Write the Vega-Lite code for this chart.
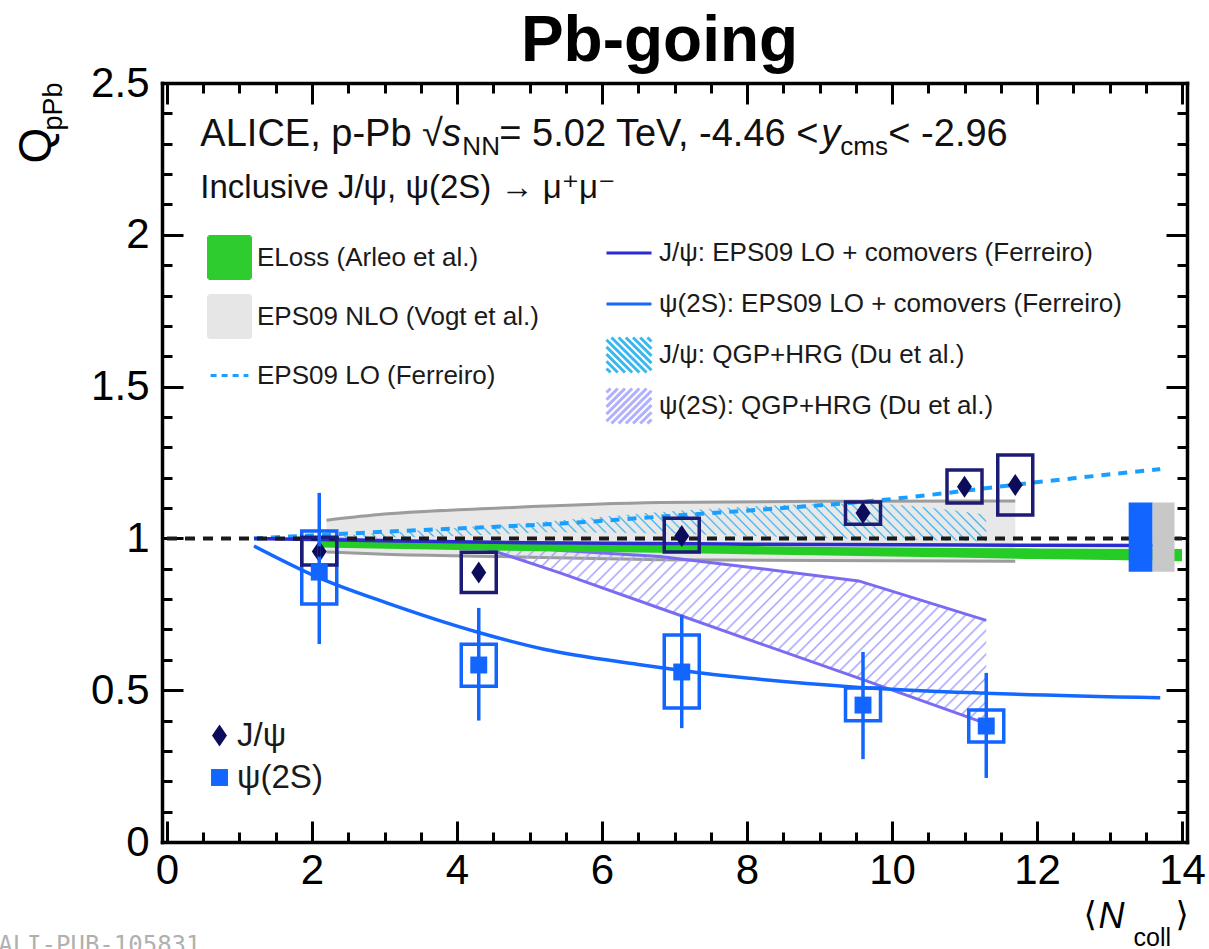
{
"$schema":"https://vega.github.io/schema/vega-lite/v6.json",
"width":1025,"height":759,
"autosize":{"type":"none"},
"padding":{"left":162,"top":83,"right":22,"bottom":107},
"background":"white",
"config":{"view":{"stroke":null},"font":"Liberation Sans","axis":{"grid":false}},
"datasets":{
"meas":[
{"particle":"J/ψ","x":2.1,"y":0.957,"stat_lo":0.94,"stat_hi":0.974,"sys_lo":0.912,"sys_hi":1.004},
{"particle":"J/ψ","x":4.3,"y":0.888,"stat_lo":0.87,"stat_hi":0.906,"sys_lo":0.822,"sys_hi":0.954},
{"particle":"J/ψ","x":7.1,"y":1.008,"stat_lo":0.99,"stat_hi":1.026,"sys_lo":0.955,"sys_hi":1.066},
{"particle":"J/ψ","x":9.6,"y":1.084,"stat_lo":1.066,"stat_hi":1.102,"sys_lo":1.047,"sys_hi":1.12},
{"particle":"J/ψ","x":11.0,"y":1.17,"stat_lo":1.152,"stat_hi":1.188,"sys_lo":1.117,"sys_hi":1.225},
{"particle":"J/ψ","x":11.7,"y":1.176,"stat_lo":1.158,"stat_hi":1.194,"sys_lo":1.077,"sys_hi":1.275},
{"particle":"ψ(2S)","x":2.1,"y":0.889,"stat_lo":0.652,"stat_hi":1.15,"sys_lo":0.784,"sys_hi":1.024},
{"particle":"ψ(2S)","x":4.3,"y":0.583,"stat_lo":0.40,"stat_hi":0.771,"sys_lo":0.513,"sys_hi":0.651},
{"particle":"ψ(2S)","x":7.1,"y":0.56,"stat_lo":0.375,"stat_hi":0.748,"sys_lo":0.441,"sys_hi":0.682},
{"particle":"ψ(2S)","x":9.6,"y":0.451,"stat_lo":0.273,"stat_hi":0.626,"sys_lo":0.399,"sys_hi":0.507},
{"particle":"ψ(2S)","x":11.3,"y":0.382,"stat_lo":0.211,"stat_hi":0.557,"sys_lo":0.329,"sys_hi":0.435}
],
"nlo":[{"x":2.2,"lo":0.955,"hi":1.06},{"x":3,"lo":0.948,"hi":1.08},{"x":4.6,"lo":0.94,"hi":1.1},{"x":6.8,"lo":0.93,"hi":1.118},{"x":9,"lo":0.927,"hi":1.122},{"x":11.7,"lo":0.925,"hi":1.123}],
"eloss":[{"x":2.1,"lo":0.97,"hi":0.99},{"x":4,"lo":0.962,"hi":0.985},{"x":6,"lo":0.955,"hi":0.98},{"x":8,"lo":0.948,"hi":0.975},{"x":10,"lo":0.94,"hi":0.97},{"x":12,"lo":0.932,"hi":0.967},{"x":14,"lo":0.925,"hi":0.965}],
"du_psi2s":[{"x":2.1,"lo":0.995,"hi":1.0},{"x":4.3,"lo":0.975,"hi":0.985},{"x":5.44,"lo":0.885,"hi":0.96},{"x":6.8,"lo":0.77,"hi":0.94},{"x":8.2,"lo":0.652,"hi":0.9},{"x":9.54,"lo":0.54,"hi":0.86},{"x":11.3,"lo":0.39,"hi":0.73}],
"du_jpsi":[{"x":2.1,"lo":1.0,"hi":1.005},{"x":4,"lo":1.008,"hi":1.035},{"x":5.44,"lo":1.02,"hi":1.06},{"x":7,"lo":1.015,"hi":1.09},{"x":8.5,"lo":1.005,"hi":1.11},{"x":9.6,"lo":0.998,"hi":1.115},{"x":11.3,"lo":0.99,"hi":1.078}],
"eps09lo":[{"x":1.2,"y":1.0},{"x":3,"y":1.022},{"x":5.5,"y":1.05},{"x":7,"y":1.075},{"x":8.5,"y":1.1},{"x":9.67,"y":1.122},{"x":10.77,"y":1.15},{"x":11.45,"y":1.17},{"x":12.5,"y":1.198},{"x":13.7,"y":1.228}],
"com_jpsi":[{"x":1.2,"y":1.0},{"x":3,"y":0.992},{"x":5,"y":0.986},{"x":8,"y":0.981},{"x":11,"y":0.978},{"x":13.7,"y":0.977}],
"com_psi2s":[{"x":1.2,"y":0.975},{"x":2.1,"y":0.87},{"x":3,"y":0.79},{"x":4.3,"y":0.69},{"x":5.2,"y":0.635},{"x":6.5,"y":0.585},{"x":7.1,"y":0.565},{"x":8,"y":0.54},{"x":9.5,"y":0.51},{"x":11.3,"y":0.49},{"x":13.7,"y":0.475}],
"unity":[{"x":0,"y":1},{"x":14,"y":1}],
"global":[{"kind":"ψ(2S)","x":13.43,"lo":0.89,"hi":1.118},{"kind":"J/ψ","x":13.745,"lo":0.89,"hi":1.118}]
},
"layer":[
{"data":{"name":"nlo"},"mark":{"type":"area","color":"#e8e8e8","opacity":1,"interpolate":"monotone"},
"encoding":{
"x":{"field":"x","type":"quantitative","scale":{"domain":[0,14],"nice":false,"zero":false},
"axis":{"orient":"bottom","values":[0,2,4,6,8,10,12,14],"format":"~g","tickSize":-21,"tickWidth":3,"tickColor":"#000","domainColor":"#000","domainWidth":3.5,"domainCap":"square","labelFont":"Liberation Sans","labelFontSize":42,"labelColor":"#000","labelPadding":29,"labelFlush":false,"labelOverlap":false,"labelBound":false,"grid":false,"title":"N","titleFont":"Liberation Sans","titleFontSize":36,"titleFontStyle":"italic","titleFontWeight":"normal","titleColor":"#000","titleX":936,"titleY":85,"titleAlign":"left","titleBaseline":"alphabetic","titleAngle":0}},
"y":{"field":"lo","type":"quantitative","scale":{"domain":[0,2.5],"nice":false,"zero":false},
"axis":{"orient":"left","values":[0,0.5,1,1.5,2,2.5],"format":"~g","tickSize":-21,"tickWidth":3,"tickColor":"#000","domainColor":"#000","domainWidth":3.5,"domainCap":"square","labelFont":"Liberation Sans","labelFontSize":42,"labelColor":"#000","labelPadding":34,"labelFlush":false,"labelOverlap":false,"labelBound":false,"grid":false,"title":"Q","titleFont":"Liberation Sans","titleFontSize":46,"titleFontWeight":"normal","titleColor":"#000","titleX":-112,"titleY":80,"titleAlign":"left","titleBaseline":"alphabetic","titleAngle":270}},
"y2":{"field":"hi"}}},
{"data":{"name":"nlo"},"transform":[{"fold":["lo","hi"],"as":["edge","val"]}],"mark":{"type":"line","color":"#9c9c9c","strokeWidth":3,"interpolate":"monotone"},
"encoding":{"x":{"field":"x","type":"quantitative","scale":{"domain":[0,14],"nice":false,"zero":false},"axis":null},"y":{"field":"val","type":"quantitative","scale":{"domain":[0,2.5],"nice":false,"zero":false},"axis":null},"detail":{"field":"edge"}}},
{"data":{"name":"du_psi2s"},"mark":{"type":"area","opacity":1,"fill":{"gradient":"linear","x1":0,"y1":0,"x2":1.185,"y2":0.326,"stops":[
{"offset":0.0000,"color":"rgba(164,164,255,0)"},{"offset":0.0025,"color":"#a4a4ff"},{"offset":0.0050,"color":"rgba(164,164,255,0)"},
{"offset":0.0139,"color":"rgba(164,164,255,0)"},{"offset":0.0164,"color":"#a4a4ff"},{"offset":0.0189,"color":"rgba(164,164,255,0)"},
{"offset":0.0278,"color":"rgba(164,164,255,0)"},{"offset":0.0303,"color":"#a4a4ff"},{"offset":0.0328,"color":"rgba(164,164,255,0)"},
{"offset":0.0417,"color":"rgba(164,164,255,0)"},{"offset":0.0442,"color":"#a4a4ff"},{"offset":0.0467,"color":"rgba(164,164,255,0)"},
{"offset":0.0556,"color":"rgba(164,164,255,0)"},{"offset":0.0581,"color":"#a4a4ff"},{"offset":0.0606,"color":"rgba(164,164,255,0)"},
{"offset":0.0694,"color":"rgba(164,164,255,0)"},{"offset":0.0719,"color":"#a4a4ff"},{"offset":0.0744,"color":"rgba(164,164,255,0)"},
{"offset":0.0833,"color":"rgba(164,164,255,0)"},{"offset":0.0858,"color":"#a4a4ff"},{"offset":0.0883,"color":"rgba(164,164,255,0)"},
{"offset":0.0972,"color":"rgba(164,164,255,0)"},{"offset":0.0997,"color":"#a4a4ff"},{"offset":0.1022,"color":"rgba(164,164,255,0)"},
{"offset":0.1111,"color":"rgba(164,164,255,0)"},{"offset":0.1136,"color":"#a4a4ff"},{"offset":0.1161,"color":"rgba(164,164,255,0)"},
{"offset":0.1250,"color":"rgba(164,164,255,0)"},{"offset":0.1275,"color":"#a4a4ff"},{"offset":0.1300,"color":"rgba(164,164,255,0)"},
{"offset":0.1389,"color":"rgba(164,164,255,0)"},{"offset":0.1414,"color":"#a4a4ff"},{"offset":0.1439,"color":"rgba(164,164,255,0)"},
{"offset":0.1528,"color":"rgba(164,164,255,0)"},{"offset":0.1553,"color":"#a4a4ff"},{"offset":0.1578,"color":"rgba(164,164,255,0)"},
{"offset":0.1667,"color":"rgba(164,164,255,0)"},{"offset":0.1692,"color":"#a4a4ff"},{"offset":0.1717,"color":"rgba(164,164,255,0)"},
{"offset":0.1806,"color":"rgba(164,164,255,0)"},{"offset":0.1831,"color":"#a4a4ff"},{"offset":0.1856,"color":"rgba(164,164,255,0)"},
{"offset":0.1944,"color":"rgba(164,164,255,0)"},{"offset":0.1969,"color":"#a4a4ff"},{"offset":0.1994,"color":"rgba(164,164,255,0)"},
{"offset":0.2083,"color":"rgba(164,164,255,0)"},{"offset":0.2108,"color":"#a4a4ff"},{"offset":0.2133,"color":"rgba(164,164,255,0)"},
{"offset":0.2222,"color":"rgba(164,164,255,0)"},{"offset":0.2247,"color":"#a4a4ff"},{"offset":0.2272,"color":"rgba(164,164,255,0)"},
{"offset":0.2361,"color":"rgba(164,164,255,0)"},{"offset":0.2386,"color":"#a4a4ff"},{"offset":0.2411,"color":"rgba(164,164,255,0)"},
{"offset":0.2500,"color":"rgba(164,164,255,0)"},{"offset":0.2525,"color":"#a4a4ff"},{"offset":0.2550,"color":"rgba(164,164,255,0)"},
{"offset":0.2639,"color":"rgba(164,164,255,0)"},{"offset":0.2664,"color":"#a4a4ff"},{"offset":0.2689,"color":"rgba(164,164,255,0)"},
{"offset":0.2778,"color":"rgba(164,164,255,0)"},{"offset":0.2803,"color":"#a4a4ff"},{"offset":0.2828,"color":"rgba(164,164,255,0)"},
{"offset":0.2917,"color":"rgba(164,164,255,0)"},{"offset":0.2942,"color":"#a4a4ff"},{"offset":0.2967,"color":"rgba(164,164,255,0)"},
{"offset":0.3056,"color":"rgba(164,164,255,0)"},{"offset":0.3081,"color":"#a4a4ff"},{"offset":0.3106,"color":"rgba(164,164,255,0)"},
{"offset":0.3194,"color":"rgba(164,164,255,0)"},{"offset":0.3219,"color":"#a4a4ff"},{"offset":0.3244,"color":"rgba(164,164,255,0)"},
{"offset":0.3333,"color":"rgba(164,164,255,0)"},{"offset":0.3358,"color":"#a4a4ff"},{"offset":0.3383,"color":"rgba(164,164,255,0)"},
{"offset":0.3472,"color":"rgba(164,164,255,0)"},{"offset":0.3497,"color":"#a4a4ff"},{"offset":0.3522,"color":"rgba(164,164,255,0)"},
{"offset":0.3611,"color":"rgba(164,164,255,0)"},{"offset":0.3636,"color":"#a4a4ff"},{"offset":0.3661,"color":"rgba(164,164,255,0)"},
{"offset":0.3750,"color":"rgba(164,164,255,0)"},{"offset":0.3775,"color":"#a4a4ff"},{"offset":0.3800,"color":"rgba(164,164,255,0)"},
{"offset":0.3889,"color":"rgba(164,164,255,0)"},{"offset":0.3914,"color":"#a4a4ff"},{"offset":0.3939,"color":"rgba(164,164,255,0)"},
{"offset":0.4028,"color":"rgba(164,164,255,0)"},{"offset":0.4053,"color":"#a4a4ff"},{"offset":0.4078,"color":"rgba(164,164,255,0)"},
{"offset":0.4167,"color":"rgba(164,164,255,0)"},{"offset":0.4192,"color":"#a4a4ff"},{"offset":0.4217,"color":"rgba(164,164,255,0)"},
{"offset":0.4306,"color":"rgba(164,164,255,0)"},{"offset":0.4331,"color":"#a4a4ff"},{"offset":0.4356,"color":"rgba(164,164,255,0)"},
{"offset":0.4444,"color":"rgba(164,164,255,0)"},{"offset":0.4469,"color":"#a4a4ff"},{"offset":0.4494,"color":"rgba(164,164,255,0)"},
{"offset":0.4583,"color":"rgba(164,164,255,0)"},{"offset":0.4608,"color":"#a4a4ff"},{"offset":0.4633,"color":"rgba(164,164,255,0)"},
{"offset":0.4722,"color":"rgba(164,164,255,0)"},{"offset":0.4747,"color":"#a4a4ff"},{"offset":0.4772,"color":"rgba(164,164,255,0)"},
{"offset":0.4861,"color":"rgba(164,164,255,0)"},{"offset":0.4886,"color":"#a4a4ff"},{"offset":0.4911,"color":"rgba(164,164,255,0)"},
{"offset":0.5000,"color":"rgba(164,164,255,0)"},{"offset":0.5025,"color":"#a4a4ff"},{"offset":0.5050,"color":"rgba(164,164,255,0)"},
{"offset":0.5139,"color":"rgba(164,164,255,0)"},{"offset":0.5164,"color":"#a4a4ff"},{"offset":0.5189,"color":"rgba(164,164,255,0)"},
{"offset":0.5278,"color":"rgba(164,164,255,0)"},{"offset":0.5303,"color":"#a4a4ff"},{"offset":0.5328,"color":"rgba(164,164,255,0)"},
{"offset":0.5417,"color":"rgba(164,164,255,0)"},{"offset":0.5442,"color":"#a4a4ff"},{"offset":0.5467,"color":"rgba(164,164,255,0)"},
{"offset":0.5556,"color":"rgba(164,164,255,0)"},{"offset":0.5581,"color":"#a4a4ff"},{"offset":0.5606,"color":"rgba(164,164,255,0)"},
{"offset":0.5694,"color":"rgba(164,164,255,0)"},{"offset":0.5719,"color":"#a4a4ff"},{"offset":0.5744,"color":"rgba(164,164,255,0)"},
{"offset":0.5833,"color":"rgba(164,164,255,0)"},{"offset":0.5858,"color":"#a4a4ff"},{"offset":0.5883,"color":"rgba(164,164,255,0)"},
{"offset":0.5972,"color":"rgba(164,164,255,0)"},{"offset":0.5997,"color":"#a4a4ff"},{"offset":0.6022,"color":"rgba(164,164,255,0)"},
{"offset":0.6111,"color":"rgba(164,164,255,0)"},{"offset":0.6136,"color":"#a4a4ff"},{"offset":0.6161,"color":"rgba(164,164,255,0)"},
{"offset":0.6250,"color":"rgba(164,164,255,0)"},{"offset":0.6275,"color":"#a4a4ff"},{"offset":0.6300,"color":"rgba(164,164,255,0)"},
{"offset":0.6389,"color":"rgba(164,164,255,0)"},{"offset":0.6414,"color":"#a4a4ff"},{"offset":0.6439,"color":"rgba(164,164,255,0)"},
{"offset":0.6528,"color":"rgba(164,164,255,0)"},{"offset":0.6553,"color":"#a4a4ff"},{"offset":0.6578,"color":"rgba(164,164,255,0)"},
{"offset":0.6667,"color":"rgba(164,164,255,0)"},{"offset":0.6692,"color":"#a4a4ff"},{"offset":0.6717,"color":"rgba(164,164,255,0)"},
{"offset":0.6806,"color":"rgba(164,164,255,0)"},{"offset":0.6831,"color":"#a4a4ff"},{"offset":0.6856,"color":"rgba(164,164,255,0)"},
{"offset":0.6944,"color":"rgba(164,164,255,0)"},{"offset":0.6969,"color":"#a4a4ff"},{"offset":0.6994,"color":"rgba(164,164,255,0)"},
{"offset":0.7083,"color":"rgba(164,164,255,0)"},{"offset":0.7108,"color":"#a4a4ff"},{"offset":0.7133,"color":"rgba(164,164,255,0)"},
{"offset":0.7222,"color":"rgba(164,164,255,0)"},{"offset":0.7247,"color":"#a4a4ff"},{"offset":0.7272,"color":"rgba(164,164,255,0)"},
{"offset":0.7361,"color":"rgba(164,164,255,0)"},{"offset":0.7386,"color":"#a4a4ff"},{"offset":0.7411,"color":"rgba(164,164,255,0)"},
{"offset":0.7500,"color":"rgba(164,164,255,0)"},{"offset":0.7525,"color":"#a4a4ff"},{"offset":0.7550,"color":"rgba(164,164,255,0)"},
{"offset":0.7639,"color":"rgba(164,164,255,0)"},{"offset":0.7664,"color":"#a4a4ff"},{"offset":0.7689,"color":"rgba(164,164,255,0)"},
{"offset":0.7778,"color":"rgba(164,164,255,0)"},{"offset":0.7803,"color":"#a4a4ff"},{"offset":0.7828,"color":"rgba(164,164,255,0)"},
{"offset":0.7917,"color":"rgba(164,164,255,0)"},{"offset":0.7942,"color":"#a4a4ff"},{"offset":0.7967,"color":"rgba(164,164,255,0)"},
{"offset":0.8056,"color":"rgba(164,164,255,0)"},{"offset":0.8081,"color":"#a4a4ff"},{"offset":0.8106,"color":"rgba(164,164,255,0)"},
{"offset":0.8194,"color":"rgba(164,164,255,0)"},{"offset":0.8219,"color":"#a4a4ff"},{"offset":0.8244,"color":"rgba(164,164,255,0)"},
{"offset":0.8333,"color":"rgba(164,164,255,0)"},{"offset":0.8358,"color":"#a4a4ff"},{"offset":0.8383,"color":"rgba(164,164,255,0)"},
{"offset":0.8472,"color":"rgba(164,164,255,0)"},{"offset":0.8497,"color":"#a4a4ff"},{"offset":0.8522,"color":"rgba(164,164,255,0)"},
{"offset":0.8611,"color":"rgba(164,164,255,0)"},{"offset":0.8636,"color":"#a4a4ff"},{"offset":0.8661,"color":"rgba(164,164,255,0)"},
{"offset":0.8750,"color":"rgba(164,164,255,0)"},{"offset":0.8775,"color":"#a4a4ff"},{"offset":0.8800,"color":"rgba(164,164,255,0)"},
{"offset":0.8889,"color":"rgba(164,164,255,0)"},{"offset":0.8914,"color":"#a4a4ff"},{"offset":0.8939,"color":"rgba(164,164,255,0)"},
{"offset":0.9028,"color":"rgba(164,164,255,0)"},{"offset":0.9053,"color":"#a4a4ff"},{"offset":0.9078,"color":"rgba(164,164,255,0)"},
{"offset":0.9167,"color":"rgba(164,164,255,0)"},{"offset":0.9192,"color":"#a4a4ff"},{"offset":0.9217,"color":"rgba(164,164,255,0)"},
{"offset":0.9306,"color":"rgba(164,164,255,0)"},{"offset":0.9331,"color":"#a4a4ff"},{"offset":0.9356,"color":"rgba(164,164,255,0)"},
{"offset":0.9444,"color":"rgba(164,164,255,0)"},{"offset":0.9469,"color":"#a4a4ff"},{"offset":0.9494,"color":"rgba(164,164,255,0)"},
{"offset":0.9583,"color":"rgba(164,164,255,0)"},{"offset":0.9608,"color":"#a4a4ff"},{"offset":0.9633,"color":"rgba(164,164,255,0)"},
{"offset":0.9722,"color":"rgba(164,164,255,0)"},{"offset":0.9747,"color":"#a4a4ff"},{"offset":0.9772,"color":"rgba(164,164,255,0)"},
{"offset":0.9861,"color":"rgba(164,164,255,0)"},{"offset":0.9886,"color":"#a4a4ff"},{"offset":0.9911,"color":"rgba(164,164,255,0)"},
{"offset":1,"color":"rgba(164,164,255,0)"}]}},
"encoding":{"x":{"field":"x","type":"quantitative","scale":{"domain":[0,14],"nice":false,"zero":false},"axis":null},"y":{"field":"lo","type":"quantitative","scale":{"domain":[0,2.5],"nice":false,"zero":false},"axis":null},"y2":{"field":"hi"}}},
{"data":{"name":"du_psi2s"},"transform":[{"fold":["lo","hi"],"as":["edge","val"]}],"mark":{"type":"line","color":"#7a6cf2","strokeWidth":3},
"encoding":{"x":{"field":"x","type":"quantitative","scale":{"domain":[0,14],"nice":false,"zero":false},"axis":null},"y":{"field":"val","type":"quantitative","scale":{"domain":[0,2.5],"nice":false,"zero":false},"axis":null},"detail":{"field":"edge"}}},
{"data":{"name":"du_jpsi"},"mark":{"type":"area","opacity":1,"interpolate":"monotone","fill":{"gradient":"linear","x1":0,"y1":1,"x2":1.053,"y2":0.9406,"stops":[
{"offset":0.0000,"color":"rgba(60,180,240,0)"},{"offset":0.0025,"color":"#3cb4f0"},{"offset":0.0050,"color":"rgba(60,180,240,0)"},
{"offset":0.0139,"color":"rgba(60,180,240,0)"},{"offset":0.0164,"color":"#3cb4f0"},{"offset":0.0189,"color":"rgba(60,180,240,0)"},
{"offset":0.0278,"color":"rgba(60,180,240,0)"},{"offset":0.0303,"color":"#3cb4f0"},{"offset":0.0328,"color":"rgba(60,180,240,0)"},
{"offset":0.0417,"color":"rgba(60,180,240,0)"},{"offset":0.0442,"color":"#3cb4f0"},{"offset":0.0467,"color":"rgba(60,180,240,0)"},
{"offset":0.0556,"color":"rgba(60,180,240,0)"},{"offset":0.0581,"color":"#3cb4f0"},{"offset":0.0606,"color":"rgba(60,180,240,0)"},
{"offset":0.0694,"color":"rgba(60,180,240,0)"},{"offset":0.0719,"color":"#3cb4f0"},{"offset":0.0744,"color":"rgba(60,180,240,0)"},
{"offset":0.0833,"color":"rgba(60,180,240,0)"},{"offset":0.0858,"color":"#3cb4f0"},{"offset":0.0883,"color":"rgba(60,180,240,0)"},
{"offset":0.0972,"color":"rgba(60,180,240,0)"},{"offset":0.0997,"color":"#3cb4f0"},{"offset":0.1022,"color":"rgba(60,180,240,0)"},
{"offset":0.1111,"color":"rgba(60,180,240,0)"},{"offset":0.1136,"color":"#3cb4f0"},{"offset":0.1161,"color":"rgba(60,180,240,0)"},
{"offset":0.1250,"color":"rgba(60,180,240,0)"},{"offset":0.1275,"color":"#3cb4f0"},{"offset":0.1300,"color":"rgba(60,180,240,0)"},
{"offset":0.1389,"color":"rgba(60,180,240,0)"},{"offset":0.1414,"color":"#3cb4f0"},{"offset":0.1439,"color":"rgba(60,180,240,0)"},
{"offset":0.1528,"color":"rgba(60,180,240,0)"},{"offset":0.1553,"color":"#3cb4f0"},{"offset":0.1578,"color":"rgba(60,180,240,0)"},
{"offset":0.1667,"color":"rgba(60,180,240,0)"},{"offset":0.1692,"color":"#3cb4f0"},{"offset":0.1717,"color":"rgba(60,180,240,0)"},
{"offset":0.1806,"color":"rgba(60,180,240,0)"},{"offset":0.1831,"color":"#3cb4f0"},{"offset":0.1856,"color":"rgba(60,180,240,0)"},
{"offset":0.1944,"color":"rgba(60,180,240,0)"},{"offset":0.1969,"color":"#3cb4f0"},{"offset":0.1994,"color":"rgba(60,180,240,0)"},
{"offset":0.2083,"color":"rgba(60,180,240,0)"},{"offset":0.2108,"color":"#3cb4f0"},{"offset":0.2133,"color":"rgba(60,180,240,0)"},
{"offset":0.2222,"color":"rgba(60,180,240,0)"},{"offset":0.2247,"color":"#3cb4f0"},{"offset":0.2272,"color":"rgba(60,180,240,0)"},
{"offset":0.2361,"color":"rgba(60,180,240,0)"},{"offset":0.2386,"color":"#3cb4f0"},{"offset":0.2411,"color":"rgba(60,180,240,0)"},
{"offset":0.2500,"color":"rgba(60,180,240,0)"},{"offset":0.2525,"color":"#3cb4f0"},{"offset":0.2550,"color":"rgba(60,180,240,0)"},
{"offset":0.2639,"color":"rgba(60,180,240,0)"},{"offset":0.2664,"color":"#3cb4f0"},{"offset":0.2689,"color":"rgba(60,180,240,0)"},
{"offset":0.2778,"color":"rgba(60,180,240,0)"},{"offset":0.2803,"color":"#3cb4f0"},{"offset":0.2828,"color":"rgba(60,180,240,0)"},
{"offset":0.2917,"color":"rgba(60,180,240,0)"},{"offset":0.2942,"color":"#3cb4f0"},{"offset":0.2967,"color":"rgba(60,180,240,0)"},
{"offset":0.3056,"color":"rgba(60,180,240,0)"},{"offset":0.3081,"color":"#3cb4f0"},{"offset":0.3106,"color":"rgba(60,180,240,0)"},
{"offset":0.3194,"color":"rgba(60,180,240,0)"},{"offset":0.3219,"color":"#3cb4f0"},{"offset":0.3244,"color":"rgba(60,180,240,0)"},
{"offset":0.3333,"color":"rgba(60,180,240,0)"},{"offset":0.3358,"color":"#3cb4f0"},{"offset":0.3383,"color":"rgba(60,180,240,0)"},
{"offset":0.3472,"color":"rgba(60,180,240,0)"},{"offset":0.3497,"color":"#3cb4f0"},{"offset":0.3522,"color":"rgba(60,180,240,0)"},
{"offset":0.3611,"color":"rgba(60,180,240,0)"},{"offset":0.3636,"color":"#3cb4f0"},{"offset":0.3661,"color":"rgba(60,180,240,0)"},
{"offset":0.3750,"color":"rgba(60,180,240,0)"},{"offset":0.3775,"color":"#3cb4f0"},{"offset":0.3800,"color":"rgba(60,180,240,0)"},
{"offset":0.3889,"color":"rgba(60,180,240,0)"},{"offset":0.3914,"color":"#3cb4f0"},{"offset":0.3939,"color":"rgba(60,180,240,0)"},
{"offset":0.4028,"color":"rgba(60,180,240,0)"},{"offset":0.4053,"color":"#3cb4f0"},{"offset":0.4078,"color":"rgba(60,180,240,0)"},
{"offset":0.4167,"color":"rgba(60,180,240,0)"},{"offset":0.4192,"color":"#3cb4f0"},{"offset":0.4217,"color":"rgba(60,180,240,0)"},
{"offset":0.4306,"color":"rgba(60,180,240,0)"},{"offset":0.4331,"color":"#3cb4f0"},{"offset":0.4356,"color":"rgba(60,180,240,0)"},
{"offset":0.4444,"color":"rgba(60,180,240,0)"},{"offset":0.4469,"color":"#3cb4f0"},{"offset":0.4494,"color":"rgba(60,180,240,0)"},
{"offset":0.4583,"color":"rgba(60,180,240,0)"},{"offset":0.4608,"color":"#3cb4f0"},{"offset":0.4633,"color":"rgba(60,180,240,0)"},
{"offset":0.4722,"color":"rgba(60,180,240,0)"},{"offset":0.4747,"color":"#3cb4f0"},{"offset":0.4772,"color":"rgba(60,180,240,0)"},
{"offset":0.4861,"color":"rgba(60,180,240,0)"},{"offset":0.4886,"color":"#3cb4f0"},{"offset":0.4911,"color":"rgba(60,180,240,0)"},
{"offset":0.5000,"color":"rgba(60,180,240,0)"},{"offset":0.5025,"color":"#3cb4f0"},{"offset":0.5050,"color":"rgba(60,180,240,0)"},
{"offset":0.5139,"color":"rgba(60,180,240,0)"},{"offset":0.5164,"color":"#3cb4f0"},{"offset":0.5189,"color":"rgba(60,180,240,0)"},
{"offset":0.5278,"color":"rgba(60,180,240,0)"},{"offset":0.5303,"color":"#3cb4f0"},{"offset":0.5328,"color":"rgba(60,180,240,0)"},
{"offset":0.5417,"color":"rgba(60,180,240,0)"},{"offset":0.5442,"color":"#3cb4f0"},{"offset":0.5467,"color":"rgba(60,180,240,0)"},
{"offset":0.5556,"color":"rgba(60,180,240,0)"},{"offset":0.5581,"color":"#3cb4f0"},{"offset":0.5606,"color":"rgba(60,180,240,0)"},
{"offset":0.5694,"color":"rgba(60,180,240,0)"},{"offset":0.5719,"color":"#3cb4f0"},{"offset":0.5744,"color":"rgba(60,180,240,0)"},
{"offset":0.5833,"color":"rgba(60,180,240,0)"},{"offset":0.5858,"color":"#3cb4f0"},{"offset":0.5883,"color":"rgba(60,180,240,0)"},
{"offset":0.5972,"color":"rgba(60,180,240,0)"},{"offset":0.5997,"color":"#3cb4f0"},{"offset":0.6022,"color":"rgba(60,180,240,0)"},
{"offset":0.6111,"color":"rgba(60,180,240,0)"},{"offset":0.6136,"color":"#3cb4f0"},{"offset":0.6161,"color":"rgba(60,180,240,0)"},
{"offset":0.6250,"color":"rgba(60,180,240,0)"},{"offset":0.6275,"color":"#3cb4f0"},{"offset":0.6300,"color":"rgba(60,180,240,0)"},
{"offset":0.6389,"color":"rgba(60,180,240,0)"},{"offset":0.6414,"color":"#3cb4f0"},{"offset":0.6439,"color":"rgba(60,180,240,0)"},
{"offset":0.6528,"color":"rgba(60,180,240,0)"},{"offset":0.6553,"color":"#3cb4f0"},{"offset":0.6578,"color":"rgba(60,180,240,0)"},
{"offset":0.6667,"color":"rgba(60,180,240,0)"},{"offset":0.6692,"color":"#3cb4f0"},{"offset":0.6717,"color":"rgba(60,180,240,0)"},
{"offset":0.6806,"color":"rgba(60,180,240,0)"},{"offset":0.6831,"color":"#3cb4f0"},{"offset":0.6856,"color":"rgba(60,180,240,0)"},
{"offset":0.6944,"color":"rgba(60,180,240,0)"},{"offset":0.6969,"color":"#3cb4f0"},{"offset":0.6994,"color":"rgba(60,180,240,0)"},
{"offset":0.7083,"color":"rgba(60,180,240,0)"},{"offset":0.7108,"color":"#3cb4f0"},{"offset":0.7133,"color":"rgba(60,180,240,0)"},
{"offset":0.7222,"color":"rgba(60,180,240,0)"},{"offset":0.7247,"color":"#3cb4f0"},{"offset":0.7272,"color":"rgba(60,180,240,0)"},
{"offset":0.7361,"color":"rgba(60,180,240,0)"},{"offset":0.7386,"color":"#3cb4f0"},{"offset":0.7411,"color":"rgba(60,180,240,0)"},
{"offset":0.7500,"color":"rgba(60,180,240,0)"},{"offset":0.7525,"color":"#3cb4f0"},{"offset":0.7550,"color":"rgba(60,180,240,0)"},
{"offset":0.7639,"color":"rgba(60,180,240,0)"},{"offset":0.7664,"color":"#3cb4f0"},{"offset":0.7689,"color":"rgba(60,180,240,0)"},
{"offset":0.7778,"color":"rgba(60,180,240,0)"},{"offset":0.7803,"color":"#3cb4f0"},{"offset":0.7828,"color":"rgba(60,180,240,0)"},
{"offset":0.7917,"color":"rgba(60,180,240,0)"},{"offset":0.7942,"color":"#3cb4f0"},{"offset":0.7967,"color":"rgba(60,180,240,0)"},
{"offset":0.8056,"color":"rgba(60,180,240,0)"},{"offset":0.8081,"color":"#3cb4f0"},{"offset":0.8106,"color":"rgba(60,180,240,0)"},
{"offset":0.8194,"color":"rgba(60,180,240,0)"},{"offset":0.8219,"color":"#3cb4f0"},{"offset":0.8244,"color":"rgba(60,180,240,0)"},
{"offset":0.8333,"color":"rgba(60,180,240,0)"},{"offset":0.8358,"color":"#3cb4f0"},{"offset":0.8383,"color":"rgba(60,180,240,0)"},
{"offset":0.8472,"color":"rgba(60,180,240,0)"},{"offset":0.8497,"color":"#3cb4f0"},{"offset":0.8522,"color":"rgba(60,180,240,0)"},
{"offset":0.8611,"color":"rgba(60,180,240,0)"},{"offset":0.8636,"color":"#3cb4f0"},{"offset":0.8661,"color":"rgba(60,180,240,0)"},
{"offset":0.8750,"color":"rgba(60,180,240,0)"},{"offset":0.8775,"color":"#3cb4f0"},{"offset":0.8800,"color":"rgba(60,180,240,0)"},
{"offset":0.8889,"color":"rgba(60,180,240,0)"},{"offset":0.8914,"color":"#3cb4f0"},{"offset":0.8939,"color":"rgba(60,180,240,0)"},
{"offset":0.9028,"color":"rgba(60,180,240,0)"},{"offset":0.9053,"color":"#3cb4f0"},{"offset":0.9078,"color":"rgba(60,180,240,0)"},
{"offset":0.9167,"color":"rgba(60,180,240,0)"},{"offset":0.9192,"color":"#3cb4f0"},{"offset":0.9217,"color":"rgba(60,180,240,0)"},
{"offset":0.9306,"color":"rgba(60,180,240,0)"},{"offset":0.9331,"color":"#3cb4f0"},{"offset":0.9356,"color":"rgba(60,180,240,0)"},
{"offset":0.9444,"color":"rgba(60,180,240,0)"},{"offset":0.9469,"color":"#3cb4f0"},{"offset":0.9494,"color":"rgba(60,180,240,0)"},
{"offset":0.9583,"color":"rgba(60,180,240,0)"},{"offset":0.9608,"color":"#3cb4f0"},{"offset":0.9633,"color":"rgba(60,180,240,0)"},
{"offset":0.9722,"color":"rgba(60,180,240,0)"},{"offset":0.9747,"color":"#3cb4f0"},{"offset":0.9772,"color":"rgba(60,180,240,0)"},
{"offset":0.9861,"color":"rgba(60,180,240,0)"},{"offset":0.9886,"color":"#3cb4f0"},{"offset":0.9911,"color":"rgba(60,180,240,0)"},
{"offset":1,"color":"rgba(60,180,240,0)"}]}},
"encoding":{"x":{"field":"x","type":"quantitative","scale":{"domain":[0,14],"nice":false,"zero":false},"axis":null},"y":{"field":"lo","type":"quantitative","scale":{"domain":[0,2.5],"nice":false,"zero":false},"axis":null},"y2":{"field":"hi"}}},
{"data":{"name":"eloss"},"mark":{"type":"area","color":"#26cc26","opacity":1,"interpolate":"monotone"},
"encoding":{"x":{"field":"x","type":"quantitative","scale":{"domain":[0,14],"nice":false,"zero":false},"axis":null},"y":{"field":"lo","type":"quantitative","scale":{"domain":[0,2.5],"nice":false,"zero":false},"axis":null},"y2":{"field":"hi"}}},
{"data":{"name":"eps09lo"},"mark":{"type":"line","color":"#1a9fff","strokeWidth":4,"strokeDash":[9,8],"interpolate":"monotone"},
"encoding":{"x":{"field":"x","type":"quantitative","scale":{"domain":[0,14],"nice":false,"zero":false},"axis":null},"y":{"field":"y","type":"quantitative","scale":{"domain":[0,2.5],"nice":false,"zero":false},"axis":null}}},
{"data":{"name":"com_jpsi"},"mark":{"type":"line","color":"#2b2bd0","strokeWidth":3.5,"interpolate":"monotone"},
"encoding":{"x":{"field":"x","type":"quantitative","scale":{"domain":[0,14],"nice":false,"zero":false},"axis":null},"y":{"field":"y","type":"quantitative","scale":{"domain":[0,2.5],"nice":false,"zero":false},"axis":null}}},
{"data":{"name":"com_psi2s"},"mark":{"type":"line","color":"#1568ff","strokeWidth":3.5,"interpolate":"monotone"},
"encoding":{"x":{"field":"x","type":"quantitative","scale":{"domain":[0,14],"nice":false,"zero":false},"axis":null},"y":{"field":"y","type":"quantitative","scale":{"domain":[0,2.5],"nice":false,"zero":false},"axis":null}}},
{"data":{"name":"unity"},"mark":{"type":"line","color":"#1a1a1a","strokeWidth":4,"strokeDash":[10,8]},
"encoding":{"x":{"field":"x","type":"quantitative","scale":{"domain":[0,14],"nice":false,"zero":false},"axis":null},"y":{"field":"y","type":"quantitative","scale":{"domain":[0,2.5],"nice":false,"zero":false},"axis":null}}},
{"data":{"name":"meas"},"transform":[{"filter":"datum.particle == 'ψ(2S)'"}],"mark":{"type":"bar","width":35,"filled":false,"color":"#1266ff","strokeWidth":3.5},
"encoding":{"x":{"field":"x","type":"quantitative","scale":{"domain":[0,14],"nice":false,"zero":false},"axis":null},"y":{"field":"sys_lo","type":"quantitative","scale":{"domain":[0,2.5],"nice":false,"zero":false},"axis":null},"y2":{"field":"sys_hi"}}},
{"data":{"name":"meas"},"transform":[{"filter":"datum.particle == 'J/ψ'"}],"mark":{"type":"bar","width":35,"filled":false,"color":"#1c1c74","strokeWidth":3.5},
"encoding":{"x":{"field":"x","type":"quantitative","scale":{"domain":[0,14],"nice":false,"zero":false},"axis":null},"y":{"field":"sys_lo","type":"quantitative","scale":{"domain":[0,2.5],"nice":false,"zero":false},"axis":null},"y2":{"field":"sys_hi"}}},
{"data":{"name":"meas"},"mark":{"type":"point","filled":true,"size":484,"opacity":1,"strokeWidth":0},
"encoding":{"x":{"field":"x","type":"quantitative","scale":{"domain":[0,14],"nice":false,"zero":false},"axis":null},"y":{"field":"y","type":"quantitative","scale":{"domain":[0,2.5],"nice":false,"zero":false},"axis":null},
"shape":{"field":"particle","type":"nominal","scale":{"domain":["J/ψ","ψ(2S)"],"range":["M0,-1L0.68,0L0,1L-0.68,0Z","M-0.77,-0.77H0.77V0.77H-0.77Z"]},"legend":{"title":null,"orient":"none","legendX":41,"legendY":636,"direction":"vertical","symbolSize":484,"labelFont":"Liberation Sans","labelFontSize":33,"labelColor":"#1a1a1a","labelOffset":1,"rowPadding":8,"padding":0,"labelLimit":1000}},
"color":{"field":"particle","type":"nominal","scale":{"domain":["J/ψ","ψ(2S)"],"range":["#0c0c5a","#1266ff"]},"legend":{"title":null,"orient":"none","legendX":41,"legendY":636,"direction":"vertical","symbolSize":484,"labelFont":"Liberation Sans","labelFontSize":33,"labelColor":"#1a1a1a","labelOffset":1,"rowPadding":8,"padding":0,"labelLimit":1000}}}},
{"data":{"values":[{"entry":"ELoss (Arleo et al.)"},{"entry":"EPS09 NLO (Vogt et al.)"},{"entry":"EPS09 LO (Ferreiro)"}]},"transform":[{"filter":"false"}],
"mark":{"type":"point","filled":true,"size":1764,"opacity":1,"strokeWidth":3},
"encoding":{
"shape":{"field":"entry","type":"nominal","scale":{"domain":["ELoss (Arleo et al.)","EPS09 NLO (Vogt et al.)","EPS09 LO (Ferreiro)"],"range":["square","square","M-1,-1M1,1M-0.9,0H0.9"]},"legend":{"title":null,"orient":"none","legendX":45,"legendY":152,"direction":"vertical","symbolSize":1764,"symbolStrokeWidth":3,"labelFont":"Liberation Sans","labelFontSize":26,"labelColor":"#1a1a1a","labelOffset":5,"rowPadding":4,"padding":0,"labelLimit":1000}},
"fill":{"field":"entry","type":"nominal","scale":{"domain":["ELoss (Arleo et al.)","EPS09 NLO (Vogt et al.)","EPS09 LO (Ferreiro)"],"range":["#2ecc2e","#e6e6e6","transparent"]},"legend":{"title":null,"orient":"none","legendX":45,"legendY":152,"direction":"vertical","symbolSize":1764,"symbolStrokeWidth":3,"labelFont":"Liberation Sans","labelFontSize":26,"labelColor":"#1a1a1a","labelOffset":5,"rowPadding":4,"padding":0,"labelLimit":1000}},
"stroke":{"field":"entry","type":"nominal","scale":{"domain":["ELoss (Arleo et al.)","EPS09 NLO (Vogt et al.)","EPS09 LO (Ferreiro)"],"range":["#2ecc2e","#e6e6e6","#1a9fff"]},"legend":{"title":null,"orient":"none","legendX":45,"legendY":152,"direction":"vertical","symbolSize":1764,"symbolStrokeWidth":3,"labelFont":"Liberation Sans","labelFontSize":26,"labelColor":"#1a1a1a","labelOffset":5,"rowPadding":4,"padding":0,"labelLimit":1000}},
"strokeDash":{"field":"entry","type":"nominal","scale":{"domain":["ELoss (Arleo et al.)","EPS09 NLO (Vogt et al.)","EPS09 LO (Ferreiro)"],"range":[[1,0],[1,0],[6,5]]},"legend":{"title":null,"orient":"none","legendX":45,"legendY":152,"direction":"vertical","symbolSize":1764,"symbolStrokeWidth":3,"labelFont":"Liberation Sans","labelFontSize":26,"labelColor":"#1a1a1a","labelOffset":5,"rowPadding":4,"padding":0,"labelLimit":1000}}}},
{"data":{"values":[{"entry":"J/ψ: EPS09 LO + comovers (Ferreiro)"},{"entry":"ψ(2S): EPS09 LO + comovers (Ferreiro)"},{"entry":"J/ψ: QGP+HRG (Du et al.)"},{"entry":"ψ(2S): QGP+HRG (Du et al.)"}]},"transform":[{"filter":"false"}],
"mark":{"type":"point","filled":false,"size":2025,"opacity":1,"strokeWidth":3},
"encoding":{
"shape":{"field":"entry","type":"nominal","scale":{"domain":["J/ψ: EPS09 LO + comovers (Ferreiro)","ψ(2S): EPS09 LO + comovers (Ferreiro)","J/ψ: QGP+HRG (Du et al.)","ψ(2S): QGP+HRG (Du et al.)"],"range":["M-1,-0.78M1,0.78M-1,0H1","M-1,-0.78M1,0.78M-1,0H1","M-1,0.6L-0.82,0.78M-1,0.28L-0.5,0.78M-1,-0.04L-0.18,0.78M-1,-0.36L0.14,0.78M-1,-0.68L0.46,0.78M-0.78,-0.78L0.78,0.78M-0.46,-0.78L1,0.68M-0.14,-0.78L1,0.36M0.18,-0.78L1,0.04M0.5,-0.78L1,-0.28M0.82,-0.78L1,-0.6","M1,0.6L0.82,0.78M1,0.28L0.5,0.78M1,-0.04L0.18,0.78M1,-0.36L-0.14,0.78M1,-0.68L-0.46,0.78M0.78,-0.78L-0.78,0.78M0.46,-0.78L-1,0.68M0.14,-0.78L-1,0.36M-0.18,-0.78L-1,0.04M-0.5,-0.78L-1,-0.28M-0.82,-0.78L-1,-0.6"]},"legend":{"title":null,"orient":"none","legendX":443,"legendY":146,"direction":"vertical","symbolSize":2025,"symbolStrokeWidth":3,"labelFont":"Liberation Sans","labelFontSize":26,"labelColor":"#1a1a1a","labelOffset":6,"rowPadding":3,"padding":0,"labelLimit":1000}},
"stroke":{"field":"entry","type":"nominal","scale":{"domain":["J/ψ: EPS09 LO + comovers (Ferreiro)","ψ(2S): EPS09 LO + comovers (Ferreiro)","J/ψ: QGP+HRG (Du et al.)","ψ(2S): QGP+HRG (Du et al.)"],"range":["#2b2bd0","#1568ff","#3ab8ee","#b0b0ff"]},"legend":{"title":null,"orient":"none","legendX":443,"legendY":146,"direction":"vertical","symbolSize":2025,"symbolStrokeWidth":3,"labelFont":"Liberation Sans","labelFontSize":26,"labelColor":"#1a1a1a","labelOffset":6,"rowPadding":3,"padding":0,"labelLimit":1000}}}},
{"data":{"values":[{"t":"ALICE, p-Pb √"}]},"mark":{"type":"text","align":"left","baseline":"alphabetic","font":"Liberation Sans","fontSize":38,"color":"#111"},
"encoding":{"x":{"datum":0.46,"type":"quantitative","scale":{"domain":[0,14],"nice":false,"zero":false},"axis":null},"y":{"datum":2.2925,"type":"quantitative","scale":{"domain":[0,2.5],"nice":false,"zero":false},"axis":null},"text":{"field":"t"}}},
{"data":{"values":[{"t":"s"}]},"mark":{"type":"text","align":"left","baseline":"alphabetic","font":"Liberation Sans","fontSize":38,"fontStyle":"italic","color":"#111","dx":242},
"encoding":{"x":{"datum":0.46,"type":"quantitative","scale":{"domain":[0,14],"nice":false,"zero":false},"axis":null},"y":{"datum":2.2925,"type":"quantitative","scale":{"domain":[0,2.5],"nice":false,"zero":false},"axis":null},"text":{"field":"t"}}},
{"data":{"values":[{"t":"NN"}]},"mark":{"type":"text","align":"left","baseline":"alphabetic","font":"Liberation Sans","fontSize":26,"color":"#111","dx":262,"dy":9},
"encoding":{"x":{"datum":0.46,"type":"quantitative","scale":{"domain":[0,14],"nice":false,"zero":false},"axis":null},"y":{"datum":2.2925,"type":"quantitative","scale":{"domain":[0,2.5],"nice":false,"zero":false},"axis":null},"text":{"field":"t"}}},
{"data":{"values":[{"t":"= 5.02 TeV, -4.46 <"}]},"mark":{"type":"text","align":"left","baseline":"alphabetic","font":"Liberation Sans","fontSize":38,"color":"#111","dx":299},
"encoding":{"x":{"datum":0.46,"type":"quantitative","scale":{"domain":[0,14],"nice":false,"zero":false},"axis":null},"y":{"datum":2.2925,"type":"quantitative","scale":{"domain":[0,2.5],"nice":false,"zero":false},"axis":null},"text":{"field":"t"}}},
{"data":{"values":[{"t":"y"}]},"mark":{"type":"text","align":"left","baseline":"alphabetic","font":"Liberation Sans","fontSize":38,"fontStyle":"italic","color":"#111","dx":621},
"encoding":{"x":{"datum":0.46,"type":"quantitative","scale":{"domain":[0,14],"nice":false,"zero":false},"axis":null},"y":{"datum":2.2925,"type":"quantitative","scale":{"domain":[0,2.5],"nice":false,"zero":false},"axis":null},"text":{"field":"t"}}},
{"data":{"values":[{"t":"cms"}]},"mark":{"type":"text","align":"left","baseline":"alphabetic","font":"Liberation Sans","fontSize":26,"color":"#111","dx":640,"dy":9},
"encoding":{"x":{"datum":0.46,"type":"quantitative","scale":{"domain":[0,14],"nice":false,"zero":false},"axis":null},"y":{"datum":2.2925,"type":"quantitative","scale":{"domain":[0,2.5],"nice":false,"zero":false},"axis":null},"text":{"field":"t"}}},
{"data":{"values":[{"t":"< -2.96"}]},"mark":{"type":"text","align":"left","baseline":"alphabetic","font":"Liberation Sans","fontSize":38,"color":"#111","dx":688},
"encoding":{"x":{"datum":0.46,"type":"quantitative","scale":{"domain":[0,14],"nice":false,"zero":false},"axis":null},"y":{"datum":2.2925,"type":"quantitative","scale":{"domain":[0,2.5],"nice":false,"zero":false},"axis":null},"text":{"field":"t"}}},
{"data":{"values":[{"t":"Inclusive J/ψ, ψ(2S) → μ⁺μ⁻"}]},"mark":{"type":"text","align":"left","baseline":"alphabetic","font":"Liberation Sans, DejaVu Sans","fontSize":33,"color":"#111"},
"encoding":{"x":{"datum":0.46,"type":"quantitative","scale":{"domain":[0,14],"nice":false,"zero":false},"axis":null},"y":{"datum":2.1212,"type":"quantitative","scale":{"domain":[0,2.5],"nice":false,"zero":false},"axis":null},"text":{"field":"t"}}},
{"data":{"name":"global"},"transform":[{"filter":"datum.kind == 'ψ(2S)'"}],"mark":{"type":"bar","width":24,"color":"#1266ff"},
"encoding":{"x":{"field":"x","type":"quantitative","scale":{"domain":[0,14],"nice":false,"zero":false},
"axis":{"orient":"top","values":[0,2,4,6,8,10,12,14],"tickSize":-21,"tickWidth":3,"tickColor":"#000","domainColor":"#000","domainWidth":3.5,"domainCap":"square","labels":false,"grid":false,"title":"Pb-going","titleFont":"Liberation Sans","titleFontSize":64,"titleFontWeight":"bold","titleColor":"#000","titleX":497,"titleY":-23,"titleAlign":"center","titleBaseline":"alphabetic","titleAngle":0}},
"y":{"field":"lo","type":"quantitative","scale":{"domain":[0,2.5],"nice":false,"zero":false},
"axis":{"orient":"right","values":[0,0.5,1,1.5,2,2.5],"tickSize":-21,"tickWidth":3,"tickColor":"#000","domainColor":"#000","domainWidth":3.5,"domainCap":"square","labels":false,"grid":false,"title":"⟨","titleFont":"DejaVu Sans","titleFontSize":34,"titleFontWeight":"normal","titleColor":"#000","titleX":-104,"titleY":842,"titleAlign":"left","titleBaseline":"alphabetic","titleAngle":0}},
"y2":{"field":"hi"}}},
{"data":{"name":"global"},"transform":[{"filter":"datum.kind == 'J/ψ'"}],"mark":{"type":"bar","width":22,"color":"#c8c8c8"},
"encoding":{"x":{"field":"x","type":"quantitative","scale":{"domain":[0,14],"nice":false,"zero":false},"axis":null},"y":{"field":"lo","type":"quantitative","scale":{"domain":[0,2.5],"nice":false,"zero":false},"axis":null},"y2":{"field":"hi"}}},
{"data":{"name":"meas"},"transform":[{"filter":"datum.particle == 'ψ(2S)'"}],"mark":{"type":"rule","color":"#1266ff","strokeWidth":3.5},
"encoding":{"x":{"field":"x","type":"quantitative","scale":{"domain":[0,14],"nice":false,"zero":false},
"axis":{"orient":"bottom","values":[0.5,1,1.5,2.5,3,3.5,4.5,5,5.5,6.5,7,7.5,8.5,9,9.5,10.5,11,11.5,12.5,13,13.5],"tickSize":-10,"tickWidth":3,"tickColor":"#000","domain":false,"labels":false,"grid":false,"title":"coll","titleFont":"Liberation Sans","titleFontSize":25,"titleFontWeight":"normal","titleColor":"#000","titleX":971,"titleY":103,"titleAlign":"left","titleBaseline":"alphabetic","titleAngle":0}},
"y":{"field":"stat_lo","type":"quantitative","scale":{"domain":[0,2.5],"nice":false,"zero":false},
"axis":{"orient":"left","values":[0.1,0.2,0.3,0.4,0.6,0.7,0.8,0.9,1.1,1.2,1.3,1.4,1.6,1.7,1.8,1.9,2.1,2.2,2.3,2.4],"tickSize":-10,"tickWidth":3,"tickColor":"#000","domain":false,"labels":false,"grid":false,"title":"pPb","titleFont":"Liberation Sans","titleFontSize":27,"titleFontWeight":"normal","titleColor":"#000","titleX":-101,"titleY":47,"titleAlign":"left","titleBaseline":"alphabetic","titleAngle":270}},
"y2":{"field":"stat_hi"}}},
{"data":{"name":"meas"},"transform":[{"filter":"datum.particle == 'J/ψ'"}],"mark":{"type":"rule","color":"#0c0c5a","strokeWidth":3},
"encoding":{"x":{"field":"x","type":"quantitative","scale":{"domain":[0,14],"nice":false,"zero":false},
"axis":{"orient":"top","values":[0.5,1,1.5,2.5,3,3.5,4.5,5,5.5,6.5,7,7.5,8.5,9,9.5,10.5,11,11.5,12.5,13,13.5],"tickSize":-10,"tickWidth":3,"tickColor":"#000","domain":false,"labels":false,"grid":false,"title":"ALI-PUB-105831","titleFont":"DejaVu Sans Mono","titleFontSize":24,"titleFontWeight":"normal","titleColor":"#b0b0b0","titleX":38,"titleY":869,"titleAlign":"right","titleBaseline":"alphabetic","titleAngle":0}},
"y":{"field":"stat_lo","type":"quantitative","scale":{"domain":[0,2.5],"nice":false,"zero":false},
"axis":{"orient":"right","values":[0.1,0.2,0.3,0.4,0.6,0.7,0.8,0.9,1.1,1.2,1.3,1.4,1.6,1.7,1.8,1.9,2.1,2.2,2.3,2.4],"tickSize":-10,"tickWidth":3,"tickColor":"#000","domain":false,"labels":false,"grid":false,"title":"⟩","titleFont":"DejaVu Sans","titleFontSize":34,"titleFontWeight":"normal","titleColor":"#000","titleX":-12,"titleY":842,"titleAlign":"left","titleBaseline":"alphabetic","titleAngle":0}},
"y2":{"field":"stat_hi"}}}
],
"resolve":{"axis":{"x":"independent","y":"independent"},"scale":{"shape":"independent","fill":"independent","stroke":"independent","strokeDash":"independent","color":"independent"}}
}
